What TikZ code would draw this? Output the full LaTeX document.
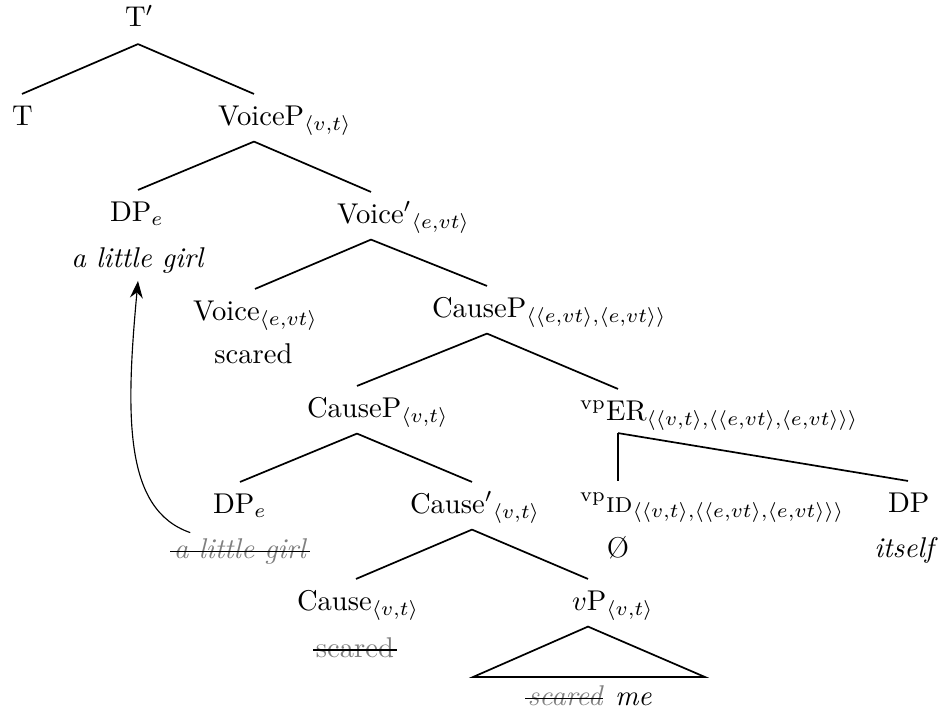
\documentclass[tikz,border=0pt]{standalone}
\usetikzlibrary{arrows.meta}
\newdimen\uu \uu=0.3497pt
\newcommand\off[2]{\makebox[0pt][l]{\hspace*{-#1\uu}#2}}
\begin{document}
\begin{tikzpicture}[x=0.3497pt, y=-0.3497pt,
  tn/.style={inner sep=0pt, text height=30.5\uu, text depth=16\uu, anchor=base},
  leaf/.style={inner sep=0pt, anchor=base},
  edge/.style={line width=0.6pt},
  gone/.style={text=black!50},
  strike/.style={line width=0.5pt},
  mover/.style={line width=0.4pt, -{Stealth[length=6pt,width=4.5pt,inset=2pt]}}]
\useasboundingbox (0,0) rectangle (945,713);
% nodes
\node[tn, text depth=17\uu] (tp) at (138,26.5) {\off{13}{T$'$}};
\node[tn] (t) at (22,125) {\off{10}{T}};
\node[tn] (voicep) at (254,125) {\off{36}{VoiceP$_{\langle v,t\rangle}$}};
\node[tn] (dpe1) at (138,221) {\off{28}{DP$_e$}};
\node[leaf] (girl1) at (138,267) {\textit{a little girl}};
\node[tn] (voicebar) at (371,223) {\off{34}{Voice$'{}_{\langle e,vt\rangle}$}};
\node[tn] (voice) at (255,320) {\off{62}{Voice$_{\langle e,vt\rangle}$}};
\node[leaf] (scared1) at (253.5,363) {scared};
\node[tn] (causep1) at (487,317) {\off{55}{CauseP$_{\langle\langle e,vt\rangle,\langle e,vt\rangle\rangle}$}};
\node[tn] (causep2) at (357,417) {\off{50}{CauseP$_{\langle v,t\rangle}$}};
\node[tn, text depth=12.5\uu] (er) at (618,420) {\off{38}{$^{\mathrm{vp}}$ER$_{\langle\langle v,t\rangle,\langle\langle e,vt\rangle,\langle e,vt\rangle\rangle\rangle}$}};
\node[tn] (dpe2) at (240,513) {\off{27}{DP$_e$}};
\node[leaf,gone] (girl2) at (240.5,558) {\textit{a little girl}};
\node[tn] (causebar) at (472,513) {\off{62}{Cause$'{}_{\langle v,t\rangle}$}};
\node[tn] (cause) at (356,610) {\off{59}{Cause$_{\langle v,t\rangle}$}};
\node[leaf,gone] (scared2) at (355,657) {scared};
\node[tn] (vp) at (588,610) {\off{16}{$v$P$_{\langle v,t\rangle}$}};
\node[leaf,gone,anchor=base west] (scared3) at (527,705) {\textit{scared}};
\node[leaf,anchor=base west] (me) at ([xshift=10\uu]scared3.base east) {\textit{me}};
\node[tn] (id) at (618,512) {\off{38}{$^{\mathrm{vp}}$\textsc{id}$_{\langle\langle v,t\rangle,\langle\langle e,vt\rangle,\langle e,vt\rangle\rangle\rangle}$}};
\node[tn] (dp) at (908,512) {\off{20}{DP}};
\node[leaf] (empty) at (618,557) {\O};
\node[leaf] (itself) at (906,557) {\textit{itself}};
% edges
\draw[edge] (tp.south) -- (t.north);
\draw[edge] (tp.south) -- (voicep.north);
\draw[edge] (voicep.south) -- (dpe1.north);
\draw[edge] (voicep.south) -- (voicebar.north);
\draw[edge] (voicebar.south) -- (voice.north);
\draw[edge] (voicebar.south) -- (causep1.north);
\draw[edge] (causep1.south) -- (causep2.north);
\draw[edge] (causep1.south) -- (er.north);
\draw[edge] (causep2.south) -- (dpe2.north);
\draw[edge] (causep2.south) -- (causebar.north);
\draw[edge] (causebar.south) -- (cause.north);
\draw[edge] (causebar.south) -- (vp.north);
\draw[edge] (er.south) -- (id.north);
\draw[edge] (er.south) -- (dp.north);
\coordinate (vpl) at (473,677);
\coordinate (vpr) at (705,677);
\draw[edge] (vp.south) -- (vpl) -- (vpr) -- cycle;
% strike-throughs
\draw[strike] ([xshift=-3\uu,yshift=6.5\uu]girl2.base west) -- ([xshift=2\uu,yshift=6.5\uu]girl2.base east);
\draw[strike] ([xshift=-2\uu,yshift=7\uu]scared2.base west) -- ([xshift=2\uu,yshift=7\uu]scared2.base east);
\draw[strike] ([xshift=-2\uu,yshift=6.5\uu]scared3.base west) -- ([xshift=-1\uu,yshift=6.5\uu]scared3.base east);
% movement arrow
\draw[mover] ([xshift=17\uu,yshift=5\uu]girl2.north west) .. controls (125,510) and (125,420) .. ([yshift=-7.5\uu]girl1.south);
\end{tikzpicture}
\end{document}
